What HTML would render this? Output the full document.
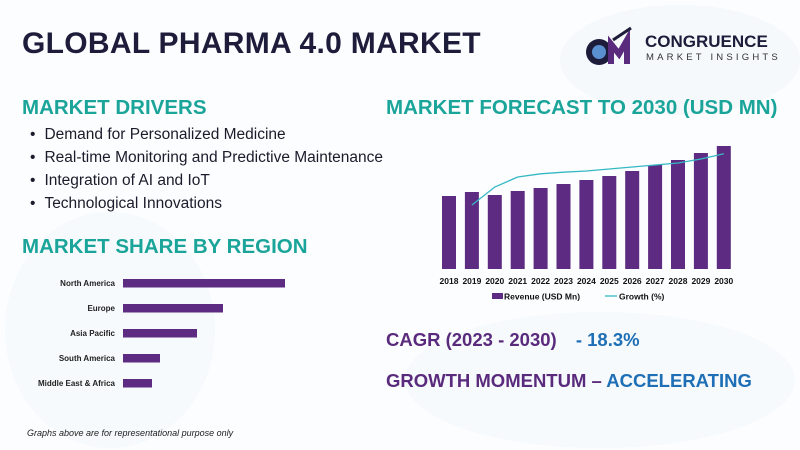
<!DOCTYPE html>
<html><head><meta charset="utf-8"><style>
html,body{margin:0;width:800px;height:450px;overflow:hidden}
body{font-family:"Liberation Sans",sans-serif;background:#fff;position:relative}
.abs{position:absolute;margin:0}
h1{font-size:30px;font-weight:900;color:#1d1d3b;left:22px;top:27px;letter-spacing:0.3px;white-space:nowrap}
.h2{font-size:20.5px;font-weight:bold;color:#1ba59a;white-space:nowrap}
ul{list-style:none;padding:0;left:30px;top:126px;font-size:15.5px;color:#1b1b2b;white-space:nowrap}
ul li{height:23px}
ul li:before{content:"•";margin-right:9px}
.big{font-size:18.5px;font-weight:bold;color:#5a2a7c;white-space:nowrap}
</style></head><body>
<svg class="abs" style="left:0;top:0" width="800" height="450">
<rect width="800" height="450" fill="#fbfdfe"/>
<ellipse cx="680" cy="60" rx="120" ry="55" fill="#f2f7f9" opacity=".6"/>
<ellipse cx="600" cy="380" rx="195" ry="68" fill="#f3f8fa" opacity=".6"/>
<ellipse cx="110" cy="330" rx="105" ry="118" fill="#f1f7f9" opacity=".5"/>
</svg>
<h1 class="abs">GLOBAL PHARMA 4.0 MARKET</h1>
<div class="abs" style="left:583px;top:26px;width:200px;height:44px">
<svg width="60" height="42"><circle cx="16" cy="26" r="13" fill="#1d1d3b"/><circle cx="16" cy="26" r="7" fill="#5a8fd0"/><path d="M28 38V18l8 10 8-14v24" stroke="#5a2a7c" stroke-width="6" fill="none"/><path d="M30 14l18-12" stroke="#1d1d3b" stroke-width="3"/></svg>
<div class="abs" style="left:62px;top:6px;font-size:17px;font-weight:900;color:#1d1d3b">CONGRUENCE</div>
<div class="abs" style="left:63px;top:26px;font-size:9.5px;letter-spacing:3.2px;color:#333;white-space:nowrap">MARKET INSIGHTS</div>
</div>
<div class="abs h2" style="left:22px;top:96px">MARKET DRIVERS</div>
<ul class="abs">
<li>Demand for Personalized Medicine</li>
<li>Real-time Monitoring and Predictive Maintenance</li>
<li>Integration of AI and IoT</li>
<li>Technological Innovations</li>
</ul>
<div class="abs h2" style="left:22px;top:235px">MARKET SHARE BY REGION</div>
<div class="abs h2" style="left:386px;top:96px">MARKET FORECAST TO 2030 (USD MN)</div>
<svg class="abs" style="left:0;top:0" width="800" height="450" id="charts"></svg>
<div class="abs big" style="left:386px;top:329px">CAGR (2023 - 2030) <span style="color:#1e6fb5;margin-left:14px">- 18.3%</span></div>
<div class="abs big" style="left:386px;top:370px">GROWTH MOMENTUM – <span style="color:#1e6fb5">ACCELERATING</span></div>
<div class="abs" style="left:27px;top:428px;font-size:9px;font-style:italic;color:#222;white-space:nowrap">Graphs above are for representational purpose only</div>
<script>
const years=["2018","2019","2020","2021","2022","2023","2024","2025","2026","2027","2028","2029","2030"];
const revenue=[73,77,74,78,81,85,89,93,98,104,109,116,123];
const growth=[null,8,10.25,11.5,11.9,12.1,12.25,12.5,12.75,13,13.25,13.75,14.4];
const regions=["North America","Europe","Asia Pacific","South America","Middle East & Africa"];
const shares=[162,100,74,37,29];
const NS="http://www.w3.org/2000/svg";
const svg=document.getElementById('charts');
function mk(t,a){const e=document.createElementNS(NS,t);for(const k in a)e.setAttribute(k,a[k]);svg.appendChild(e);return e;}
const base=269;
const xC=i=>449+i*22.9;
const yR=v=>base-v;
const yG=g=>base-g*8;
years.forEach((y,i)=>{
 const r=mk('rect',{x:xC(i)-7,y:yR(revenue[i]),width:14,height:base-yR(revenue[i]),fill:'#5e2b82'});
 
 
 const t=mk('text',{x:xC(i),y:284,'text-anchor':'middle','font-size':8.5,'font-weight':'bold',fill:'#111'});
 t.textContent=y;
 
 
});
let d='';growth.forEach((g,i)=>{if(g==null)return;d+=(d?'L':'M')+xC(i)+' '+yG(g);});
const ln=mk('path',{d:d,stroke:'#35b8c4','stroke-width':1.3,fill:'none'});


const lg1=mk('rect',{x:492,y:293,width:11,height:6,fill:'#5e2b82'});


const lt1=mk('text',{x:504,y:299.5,'font-size':8.5,'font-weight':'bold',fill:'#111'});lt1.textContent='Revenue (USD Mn)';


const lg2=mk('line',{x1:605,y1:296,x2:617,y2:296,stroke:'#35b8c4','stroke-width':1.3});


const lt2=mk('text',{x:619,y:299.5,'font-size':8.5,'font-weight':'bold',fill:'#111'});lt2.textContent='Growth (%)';


regions.forEach((r,i)=>{
 const cy=283+i*25;
 const b=mk('rect',{x:123,y:cy-4,width:shares[i],height:8.5,fill:'#5e2b82'});
 
 
 const t=mk('text',{x:115,y:cy+3,'text-anchor':'end','font-size':8,'font-weight':'bold',fill:'#222'});
 t.textContent=r;
 
 
});
</script>
</body></html>
